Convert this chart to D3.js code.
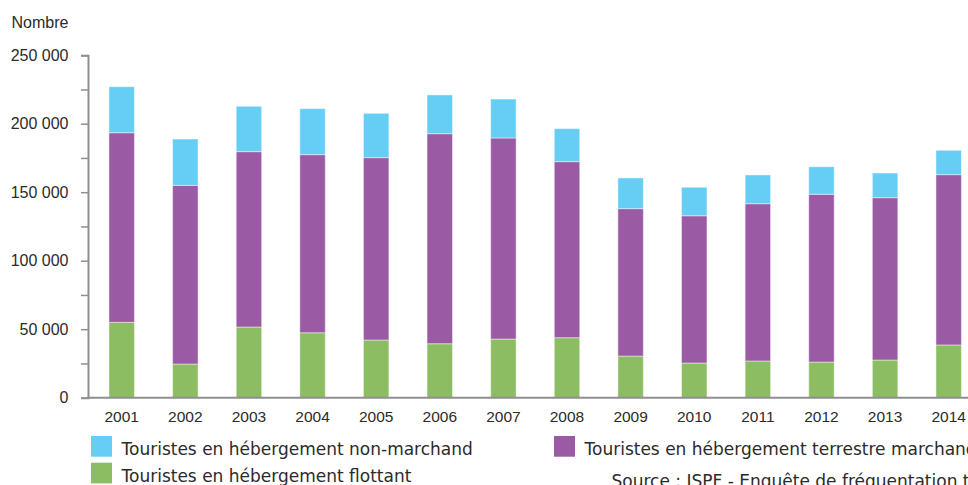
<!DOCTYPE html>
<html><head><meta charset="utf-8">
<script src="https://cdn.jsdelivr.net/npm/d3@7"></script>
<style>html,body{margin:0;padding:0;background:#fff;overflow:hidden}</style>
</head><body>
<svg id="c" width="968" height="485"></svg>
<script>
const years = ["2001","2002","2003","2004","2005","2006","2007","2008","2009","2010","2011","2012","2013","2014"];
const flottant = [55000, 24600, 51600, 47400, 42100, 39400, 42800, 43800, 30400, 25300, 26800, 26000, 27500, 38500];
const terrestre = [138400, 130400, 128000, 130000, 133100, 153300, 146800, 128500, 107600, 107500, 114800, 122500, 118500, 124300];
const nonMarchand = [33600, 33800, 33100, 33600, 32400, 28300, 28400, 24100, 22400, 20800, 21000, 20100, 18000, 17800];
const yTicks = [0, 50000, 100000, 150000, 200000, 250000];
const seriesNames = ["Touristes en hébergement flottant","Touristes en hébergement terrestre marchand","Touristes en hébergement non-marchand"];
const colors = ["#8CBD63","#9A5BA4","#66CEF5"];

const svg = d3.select("#c");
const axisColor = "#8f8f8f";
const textColor = "#2b2b2b";
const numFont = "'Liberation Sans', Arial, sans-serif";
const txtFont = "'DejaVu Sans', Verdana, sans-serif";

const x = d3.scaleBand().domain(years).range([89.9, 980.5]).paddingInner(0.6).paddingOuter(0.3);
const y = d3.scaleLinear().domain([0, 250000]).range([397.7, 55.2]);

const table = years.map((yr, i) => ({year: yr, f: flottant[i], t: terrestre[i], n: nonMarchand[i]}));
const stack = d3.stack().keys(["f","t","n"])(table);

svg.append("g").selectAll("g").data(stack).join("g")
  .attr("fill", (d, i) => colors[i])
  .selectAll("rect").data(d => d).join("rect")
  .attr("x", d => x(d.data.year))
  .attr("width", x.bandwidth())
  .attr("y", d => y(d[1]))
  .attr("height", d => y(d[0]) - y(d[1]))
  .attr("stroke", "rgba(255,255,255,0.45)")
  .attr("stroke-width", 1);

// y axis
const yAxis = d3.axisLeft(y).tickValues(d3.range(0, 250001, 25000)).tickSize(7).tickFormat("");
const gy = svg.append("g").attr("transform", "translate(88,0)").call(yAxis);
gy.select(".domain").attr("stroke", axisColor).attr("stroke-width", 2);
gy.selectAll(".tick line").attr("stroke", axisColor).attr("stroke-width", 1.5);

svg.append("g").selectAll("text").data(yTicks).join("text")
  .attr("x", 68.5).attr("y", d => y(d)).attr("dy", "0.36em")
  .attr("text-anchor", "end")
  .attr("font-family", numFont).attr("font-size", 16).attr("fill", textColor)
  .text(d => d3.format(",")(d).replace(/,/g, " "));

// x axis
svg.append("line").attr("x1", 87).attr("x2", 968).attr("y1", y(0)).attr("y2", y(0))
  .attr("stroke", axisColor).attr("stroke-width", 2);
svg.append("g").selectAll("text").data(years).join("text")
  .attr("x", d => x(d) + x.bandwidth() / 2).attr("y", 421.7)
  .attr("text-anchor", "middle")
  .attr("font-family", numFont).attr("font-size", 15.5).attr("fill", textColor)
  .text(d => d);

// title
svg.append("text").attr("x", 11.5).attr("y", 28).attr("font-family", numFont)
  .attr("font-size", 16).attr("fill", textColor).text("Nombre");

// legend
const legend = [
  {name: seriesNames[2], color: colors[2], x: 91, y: 436},
  {name: seriesNames[0], color: colors[0], x: 91, y: 462.7},
  {name: seriesNames[1], color: colors[1], x: 554, y: 436}
];
const lg = svg.append("g").selectAll("g").data(legend).join("g");
lg.append("rect").attr("x", d => d.x).attr("y", d => d.y).attr("width", 21).attr("height", 20.7)
  .attr("fill", d => d.color);
lg.append("text").attr("x", d => d.x + 30.5).attr("y", d => d.y + 19)
  .attr("font-family", txtFont).attr("font-size", 17).attr("fill", textColor)
  .text(d => d.name);

svg.append("text").attr("x", 611.5).attr("y", 486.7)
  .attr("font-family", txtFont).attr("font-size", 17).attr("fill", textColor)
  .text("Source : ISPF - Enquête de fréquentation touristique");
</script>
</body></html>
